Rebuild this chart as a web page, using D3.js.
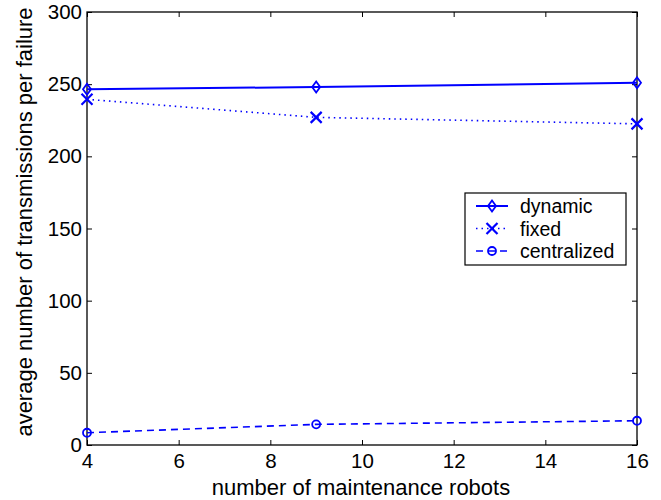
<!DOCTYPE html>
<html>
<head>
<meta charset="utf-8">
<script src="https://cdn.jsdelivr.net/npm/d3@7"></script>
<style>
  body { margin: 0; background: #fff; }
  text { font-family: "Liberation Sans", Arial, Helvetica, sans-serif; }
</style>
</head>
<body>
<svg id="chart" width="661" height="500"></svg>
<script>
// data
let robots = [4, 9, 16];
let dynamicVals = [246.5, 248, 251];
let fixedVals = [239.5, 227, 222.5];
let centralVals = [8.5, 14.3, 16.8];
let xTicks = [4, 6, 8, 10, 12, 14, 16];
let yTicks = [0, 50, 100, 150, 200, 250, 300];

let series = [
    {name: 'dynamic', values: dynamicVals, dash: null, marker: 'diamond'},
    {name: 'fixed', values: fixedVals, dash: '1.5,4', marker: 'cross'},
    {name: 'centralized', values: centralVals, dash: '7,5', marker: 'circle'}
];

let blue = '#0000ff';
let m = {left: 87, right: 637, top: 12, bottom: 445};

let svg = d3.select('#chart');
let x = d3.scaleLinear().domain([4, 16]).range([m.left, m.right]);
let y = d3.scaleLinear().domain([0, 300]).range([m.bottom, m.top]);

// frame
svg.append('rect')
    .attr('x', m.left).attr('y', m.top)
    .attr('width', m.right - m.left).attr('height', m.bottom - m.top)
    .attr('fill', 'none').attr('stroke', '#000').attr('stroke-width', 1.3);

function styleAxis(g) {
    g.select('.domain').remove();
    g.selectAll('.tick line').attr('stroke', '#000').attr('stroke-width', 1);
    g.selectAll('.tick text').attr('font-size', 20.5).attr('fill', '#000')
        .style('font-family', '"Liberation Sans", Arial, sans-serif');
}

// ticks inward on all four sides
svg.append('g').attr('transform', `translate(0,${m.bottom})`)
    .call(d3.axisBottom(x).tickValues(xTicks).tickSizeInner(-5).tickPadding(8))
    .call(styleAxis);
svg.append('g').attr('transform', `translate(0,${m.top})`)
    .call(d3.axisTop(x).tickValues(xTicks).tickSizeInner(-5).tickFormat(''))
    .call(styleAxis);
svg.append('g').attr('transform', `translate(${m.left},0)`)
    .call(d3.axisLeft(y).tickValues(yTicks).tickSizeInner(-5).tickPadding(5))
    .call(styleAxis);
svg.append('g').attr('transform', `translate(${m.right},0)`)
    .call(d3.axisRight(y).tickValues(yTicks).tickSizeInner(-5).tickFormat(''))
    .call(styleAxis);

// axis labels
svg.append('text')
    .attr('x', 361).attr('y', 495)
    .attr('text-anchor', 'middle').attr('font-size', 22)
    .text('number of maintenance robots');
svg.append('text')
    .attr('transform', 'translate(32,222) rotate(-90)')
    .attr('text-anchor', 'middle').attr('font-size', 22)
    .text('average number of transmissions per failure');

function drawMarker(g, kind, cx, cy) {
    if (kind == 'diamond') {
        g.append('path')
            .attr('d', `M${cx},${cy - 5.5}L${cx + 4},${cy}L${cx},${cy + 5.5}L${cx - 4},${cy}Z`)
            .attr('fill', 'none').attr('stroke', blue).attr('stroke-width', 1.8);
    } else if (kind == 'cross') {
        g.append('path')
            .attr('d', `M${cx - 5.5},${cy - 5.5}L${cx + 5.5},${cy + 5.5}M${cx - 5.5},${cy + 5.5}L${cx + 5.5},${cy - 5.5}`)
            .attr('stroke', blue).attr('stroke-width', 2.2);
    } else {
        g.append('circle')
            .attr('cx', cx).attr('cy', cy).attr('r', 4)
            .attr('fill', 'none').attr('stroke', blue).attr('stroke-width', 1.8);
    }
}

let line = d3.line()
    .x(function(d, i){ return x(robots[i]); })
    .y(function(d){ return y(d); });

series.forEach(function(s) {
    let g = svg.append('g');
    g.append('path')
        .attr('d', line(s.values))
        .attr('fill', 'none').attr('stroke', blue)
        .attr('stroke-width', s.dash ? 1.6 : 2)
        .attr('stroke-dasharray', s.dash);
    s.values.forEach(function(v, i) {
        drawMarker(g, s.marker, x(robots[i]), y(v));
    });
});

// legend
let lg = svg.append('g').attr('transform', 'translate(465,193)');
lg.append('rect').attr('width', 161).attr('height', 72)
    .attr('fill', '#fff').attr('stroke', '#000').attr('stroke-width', 1.2);
series.forEach(function(s, i) {
    let ry = 13 + i * 22.5;
    lg.append('line')
        .attr('x1', 11).attr('x2', 43).attr('y1', ry).attr('y2', ry)
        .attr('stroke', blue).attr('stroke-width', s.dash ? 1.6 : 2)
        .attr('stroke-dasharray', s.dash);
    drawMarker(lg, s.marker, 27, ry);
    lg.append('text')
        .attr('x', 55).attr('y', ry + 7)
        .attr('font-size', 19.5)
        .text(s.name);
});
</script>
</body>
</html>
